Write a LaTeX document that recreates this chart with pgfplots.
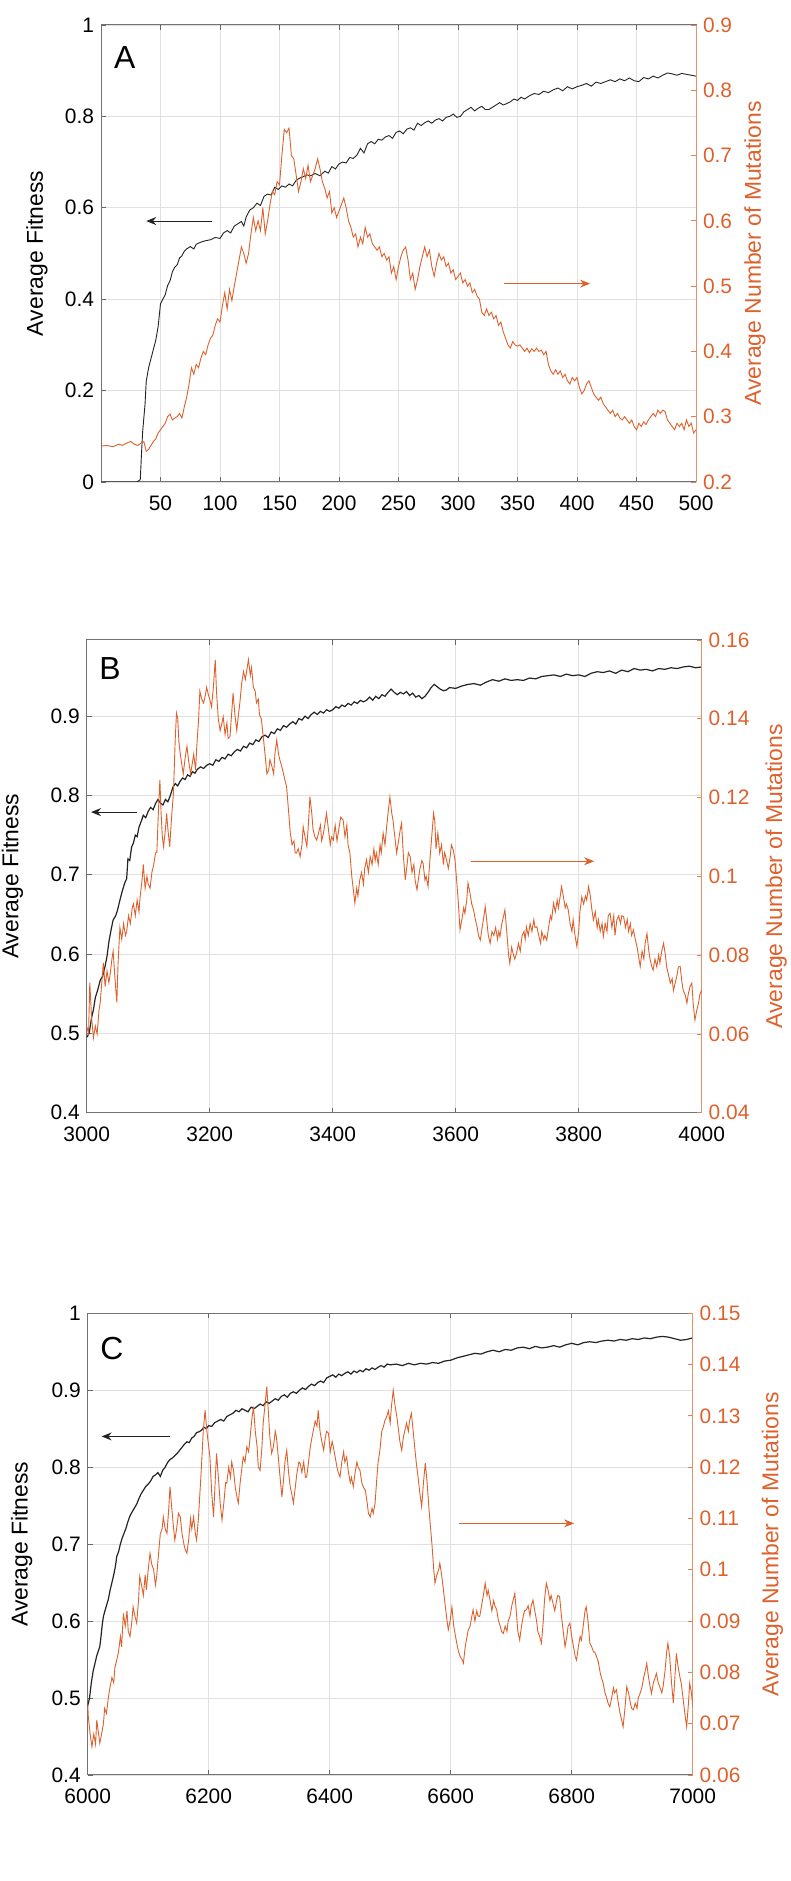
\documentclass[border=0pt]{standalone}
\usepackage{fontspec}
\setmainfont{Liberation Sans}
\usepackage{pgfplots}
\pgfplotsset{compat=1.18}
\usetikzlibrary{arrows.meta}
\definecolor{morange}{RGB}{222,96,44}
\definecolor{mblack}{RGB}{35,35,35}
\pgfplotsset{
  base/.style={scale only axis, anchor=south west,
    font=\fontsize{10.5}{12}\selectfont,
    tick align=inside, major tick length=2.5bp,
    axis line style={line width=0.5bp, black!55},
    tick style={line width=0.4bp, black!60},
    /pgf/number format/assume math mode=true,
    /pgf/number format/1000 sep={},
    scaled ticks=false,
    xticklabel style={yshift=-3.5bp},
    yticklabel style={/pgf/number format/fixed, /pgf/number format/precision=2},
    ylabel style={font=\fontsize{11.5}{13}\selectfont, anchor=center},
  },
  leftax/.style={base, grid=major, major grid style={black!12, line width=0.4bp},
    ytick pos=left, xtick pos=both},
  rightax/.style={base, axis y line*=right, axis x line=none, xticklabels={},
    ytick pos=right, yticklabel pos=right,
    y axis line style={morange!70, line width=0.5bp}, ytick style={morange!80},
    yticklabel style={color=morange}, ylabel style={color=morange}},
  blk/.style={mblack, line width=0.45bp},
  blkb/.style={mblack, line width=0.6bp},
  org/.style={morange, line width=0.45bp},
}
\begin{document}
\begin{tikzpicture}
\useasboundingbox (0,0) rectangle (395.5bp,940.5bp);
% ================= Panel A =================
\begin{axis}[leftax, at={(50.5bp,699.5bp)}, width=297.5bp, height=228.5bp,
  xmin=0, xmax=500, ymin=0, ymax=1, xtick={50,100,...,500}, ytick={0,0.2,...,1.0},
  ylabel={Average Fitness}, ylabel style={at={(axis description cs:-0.1076,0.5)}}]
\addplot[blk] coordinates {(0,0)(10,0)(20,0)(30,0)(33,0.005)(34,0.06)(35,0.11)(37,0.17)(38,0.22)(40,0.25)(42,0.27)(44,0.29)(46,0.31)(48,0.34)(50,0.39)(52,0.40)(54,0.41)(56,0.43)(58,0.44)(60,0.46)(62,0.47)(64,0.475)(66,0.49)(68,0.495)(70,0.505)(72,0.51)(75,0.515)(78,0.51)(80,0.52)(84,0.525)(88,0.528)(92,0.53)(96,0.535)(100,0.533)(103,0.545)(106,0.55)(109,0.545)(112,0.56)(115,0.565)(118,0.57)(120,0.56)(122,0.58)(125,0.595)(128,0.60)(131,0.61)(134,0.605)(137,0.625)(140,0.63)(143,0.628)(146,0.645)(149,0.64)(152,0.648)(155,0.645)(158,0.652)(161,0.648)(164,0.66)(167,0.665)(170,0.668)(173,0.672)(176,0.67)(180,0.675)(184,0.67)(188,0.68)(191,0.676)(194,0.69)(197,0.685)(200,0.696)(203,0.70)(206,0.698)(209,0.71)(212,0.708)(215,0.715)(218,0.73)(221,0.72)(224,0.74)(227,0.745)(230,0.74)(233,0.75)(236,0.748)(239,0.755)(242,0.758)(245,0.752)(248,0.765)(251,0.768)(254,0.762)(257,0.772)(260,0.775)(263,0.77)(266,0.785)(269,0.78)(272,0.786)(275,0.79)(278,0.785)(281,0.792)(284,0.795)(287,0.79)(290,0.798)(293,0.80)(296,0.805)(299,0.798)(302,0.80)(305,0.81)(308,0.815)(311,0.82)(314,0.812)(317,0.818)(320,0.822)(323,0.815)(326,0.815)(329,0.82)(332,0.825)(335,0.83)(338,0.825)(341,0.828)(344,0.832)(347,0.838)(350,0.835)(353,0.842)(356,0.838)(360,0.845)(364,0.85)(368,0.848)(372,0.855)(376,0.852)(380,0.858)(384,0.862)(388,0.856)(392,0.865)(396,0.86)(400,0.865)(404,0.868)(408,0.872)(412,0.866)(416,0.875)(420,0.872)(424,0.876)(428,0.88)(432,0.876)(436,0.882)(440,0.878)(444,0.884)(448,0.878)(452,0.876)(456,0.885)(460,0.882)(464,0.888)(468,0.884)(472,0.89)(476,0.895)(480,0.893)(484,0.89)(488,0.894)(492,0.892)(496,0.89)(500,0.888)};
\draw[mblack, line width=0.5bp, -{Stealth[length=5bp,width=4bp]}] (axis cs:93.6,0.571) -- (axis cs:38,0.571);
\draw[morange, line width=0.5bp, -{Stealth[length=5bp,width=4bp]}] (axis cs:339,0.434) -- (axis cs:411,0.434);
\node[font=\fontsize{16}{18}\selectfont] at (rel axis cs:0.04,0.928) {A};
\end{axis}
\begin{axis}[rightax, at={(50.5bp,699.5bp)}, width=297.5bp, height=228.5bp,
  xmin=0, xmax=500, ymin=0.2, ymax=0.9, ytick={0.2,0.3,...,0.9},
  ylabel={Average Number of Mutations}, ylabel style={at={(axis description cs:1.099,0.5)}}]
\addplot[org] coordinates {(0,0.255)(5,0.256)(10,0.254)(15,0.258)(18,0.256)(22,0.26)(25,0.262)(28,0.258)(31,0.256)(34,0.26)(36,0.262)(38,0.247)(40,0.25)(42,0.256)(44,0.262)(46,0.266)(48,0.275)(50,0.28)(52,0.285)(54,0.29)(56,0.30)(58,0.304)(60,0.295)(62,0.298)(64,0.30)(66,0.305)(68,0.298)(70,0.315)(72,0.33)(74,0.35)(76,0.375)(78,0.365)(80,0.38)(82,0.375)(84,0.39)(86,0.40)(88,0.395)(90,0.41)(92,0.42)(94,0.425)(96,0.44)(98,0.45)(100,0.445)(102,0.47)(104,0.49)(106,0.465)(108,0.495)(110,0.478)(112,0.5)(114,0.52)(116,0.54)(118,0.56)(120,0.55)(122,0.535)(124,0.55)(126,0.58)(128,0.605)(130,0.585)(132,0.6)(134,0.585)(136,0.62)(138,0.58)(140,0.6)(142,0.625)(144,0.645)(146,0.64)(148,0.66)(150,0.655)(152,0.7)(154,0.74)(156,0.735)(158,0.742)(160,0.70)(162,0.695)(164,0.67)(166,0.645)(168,0.66)(170,0.68)(172,0.665)(174,0.685)(176,0.66)(178,0.67)(180,0.68)(182,0.695)(184,0.68)(186,0.66)(188,0.65)(190,0.635)(192,0.645)(194,0.612)(196,0.62)(198,0.605)(200,0.615)(202,0.625)(204,0.635)(206,0.62)(208,0.60)(210,0.59)(212,0.575)(214,0.58)(216,0.56)(218,0.575)(220,0.565)(222,0.59)(224,0.575)(226,0.58)(228,0.565)(230,0.56)(232,0.555)(234,0.56)(236,0.545)(238,0.55)(240,0.54)(242,0.545)(244,0.52)(246,0.53)(248,0.51)(250,0.53)(252,0.545)(254,0.555)(256,0.56)(258,0.54)(260,0.51)(262,0.52)(264,0.495)(266,0.51)(268,0.53)(270,0.545)(272,0.56)(274,0.545)(276,0.555)(278,0.53)(280,0.515)(282,0.535)(284,0.55)(286,0.54)(288,0.545)(290,0.53)(292,0.535)(294,0.52)(296,0.525)(298,0.51)(300,0.515)(302,0.52)(304,0.505)(306,0.51)(308,0.50)(310,0.505)(312,0.49)(314,0.495)(316,0.485)(318,0.48)(320,0.46)(322,0.455)(324,0.465)(326,0.455)(328,0.46)(330,0.45)(332,0.455)(334,0.44)(336,0.445)(338,0.43)(340,0.42)(342,0.41)(344,0.405)(346,0.415)(348,0.41)(350,0.408)(352,0.41)(354,0.405)(356,0.40)(358,0.405)(360,0.398)(362,0.404)(364,0.40)(366,0.405)(368,0.40)(370,0.402)(372,0.395)(374,0.40)(376,0.38)(378,0.37)(380,0.365)(382,0.372)(384,0.365)(386,0.37)(388,0.36)(390,0.365)(392,0.355)(394,0.35)(396,0.36)(398,0.355)(400,0.36)(402,0.345)(404,0.335)(406,0.34)(408,0.35)(410,0.355)(412,0.345)(414,0.335)(416,0.33)(418,0.325)(420,0.33)(422,0.32)(424,0.315)(426,0.31)(428,0.305)(430,0.31)(432,0.30)(434,0.305)(436,0.298)(438,0.295)(440,0.30)(442,0.295)(444,0.29)(446,0.295)(448,0.285)(450,0.28)(452,0.29)(454,0.285)(456,0.292)(458,0.288)(460,0.295)(462,0.30)(464,0.305)(466,0.30)(468,0.31)(470,0.305)(472,0.31)(474,0.308)(476,0.295)(478,0.29)(480,0.285)(482,0.28)(484,0.29)(486,0.285)(488,0.29)(490,0.28)(492,0.295)(494,0.285)(496,0.29)(498,0.275)(500,0.28)};
\end{axis}
% ================= Panel B =================
\begin{axis}[leftax, at={(43.35bp,384.15bp)}, width=307.5bp, height=236.35bp,
  xmin=3000, xmax=4000, ymin=0.4, ymax=0.996, xtick={3000,3200,...,4000}, ytick={0.4,0.5,...,0.9},
  ylabel={Average Fitness}, ylabel style={at={(axis description cs:-0.1207,0.5)}}]
\addplot[blkb] coordinates {(3000,0.495)(3004,0.50)(3008,0.52)(3011,0.53)(3014,0.545)(3018,0.555)(3022,0.567)(3026,0.572)(3030,0.585)(3033,0.597)(3036,0.615)(3040,0.632)(3043,0.643)(3047,0.648)(3050,0.655)(3054,0.668)(3058,0.68)(3062,0.69)(3065,0.695)(3067,0.72)(3070,0.718)(3073,0.735)(3076,0.74)(3079,0.75)(3082,0.748)(3085,0.76)(3089,0.768)(3092,0.775)(3096,0.772)(3100,0.78)(3104,0.785)(3108,0.782)(3112,0.79)(3116,0.795)(3120,0.79)(3124,0.788)(3128,0.795)(3132,0.792)(3136,0.80)(3140,0.81)(3144,0.815)(3148,0.812)(3152,0.818)(3156,0.822)(3160,0.82)(3164,0.826)(3168,0.824)(3172,0.83)(3176,0.828)(3180,0.833)(3185,0.836)(3190,0.834)(3195,0.838)(3200,0.84)(3205,0.838)(3210,0.845)(3215,0.843)(3220,0.848)(3225,0.846)(3230,0.852)(3235,0.85)(3240,0.855)(3245,0.858)(3250,0.856)(3255,0.862)(3260,0.86)(3265,0.866)(3270,0.864)(3275,0.87)(3280,0.868)(3285,0.874)(3290,0.876)(3295,0.873)(3300,0.88)(3305,0.878)(3310,0.884)(3315,0.882)(3320,0.888)(3325,0.886)(3330,0.89)(3335,0.893)(3340,0.89)(3345,0.897)(3350,0.895)(3355,0.9)(3360,0.897)(3365,0.902)(3370,0.905)(3375,0.902)(3380,0.906)(3385,0.904)(3390,0.908)(3395,0.906)(3400,0.908)(3405,0.912)(3410,0.91)(3415,0.914)(3420,0.912)(3425,0.916)(3430,0.914)(3435,0.918)(3440,0.916)(3445,0.92)(3450,0.918)(3455,0.92)(3460,0.924)(3465,0.92)(3470,0.925)(3475,0.922)(3480,0.927)(3485,0.925)(3490,0.93)(3495,0.934)(3500,0.93)(3505,0.927)(3510,0.93)(3515,0.928)(3520,0.931)(3525,0.926)(3530,0.929)(3535,0.924)(3540,0.926)(3545,0.922)(3550,0.925)(3555,0.93)(3560,0.936)(3565,0.94)(3570,0.937)(3575,0.934)(3580,0.932)(3585,0.933)(3590,0.936)(3600,0.935)(3610,0.938)(3620,0.94)(3630,0.941)(3640,0.939)(3650,0.943)(3660,0.946)(3670,0.944)(3680,0.947)(3690,0.945)(3700,0.946)(3710,0.945)(3720,0.948)(3730,0.947)(3740,0.95)(3750,0.951)(3760,0.952)(3770,0.95)(3780,0.953)(3790,0.951)(3800,0.952)(3810,0.95)(3820,0.954)(3830,0.956)(3840,0.955)(3850,0.957)(3860,0.954)(3870,0.958)(3880,0.956)(3890,0.96)(3900,0.958)(3910,0.959)(3920,0.957)(3930,0.96)(3940,0.959)(3950,0.961)(3960,0.96)(3970,0.962)(3980,0.963)(3990,0.961)(4000,0.962)};
\draw[mblack, line width=0.5bp, -{Stealth[length=5bp,width=4bp]}] (axis cs:3082,0.779) -- (axis cs:3007,0.779);
\draw[morange, line width=0.5bp, -{Stealth[length=5bp,width=4bp]}] (axis cs:3625,0.717) -- (axis cs:3825,0.717);
\node[font=\fontsize{16}{18}\selectfont] at (rel axis cs:0.038,0.94) {B};
\end{axis}
\begin{axis}[rightax, at={(43.35bp,384.15bp)}, width=307.5bp, height=236.35bp,
  xmin=3000, xmax=4000, ymin=0.04, ymax=0.16, ytick={0.04,0.06,...,0.161},
  ylabel={Average Number of Mutations}, ylabel style={at={(axis description cs:1.121,0.5)}}]
\addplot[org] coordinates {(3000,0.062)(3003,0.060)(3005,0.073)(3008,0.064)(3011,0.059)(3014,0.062)(3017,0.06)(3020,0.066)(3022,0.068)(3025,0.074)(3027,0.078)(3030,0.072)(3033,0.076)(3036,0.073)(3038,0.075)(3041,0.079)(3043,0.081)(3046,0.074)(3049,0.068)(3051,0.078)(3054,0.087)(3057,0.084)(3060,0.088)(3063,0.085)(3065,0.086)(3068,0.09)(3071,0.088)(3074,0.092)(3076,0.093)(3079,0.09)(3082,0.094)(3085,0.091)(3087,0.095)(3090,0.099)(3092,0.103)(3095,0.097)(3098,0.1)(3100,0.098)(3103,0.097)(3106,0.101)(3109,0.103)(3112,0.106)(3114,0.106)(3117,0.118)(3119,0.1245)(3121,0.116)(3123,0.11)(3125,0.1075)(3128,0.112)(3130,0.116)(3132,0.112)(3135,0.1075)(3138,0.115)(3141,0.121)(3144,0.135)(3146,0.1414)(3148,0.14)(3150,0.134)(3152,0.1313)(3155,0.128)(3157,0.126)(3160,0.13)(3163,0.133)(3166,0.129)(3169,0.126)(3171,0.128)(3174,0.131)(3177,0.127)(3179,0.133)(3182,0.14)(3184,0.147)(3187,0.145)(3190,0.144)(3193,0.146)(3195,0.148)(3198,0.146)(3200,0.145)(3203,0.143)(3206,0.148)(3209,0.155)(3211,0.147)(3214,0.14)(3217,0.137)(3220,0.139)(3222,0.1405)(3225,0.136)(3228,0.139)(3230,0.135)(3233,0.1355)(3236,0.142)(3238,0.1465)(3241,0.141)(3244,0.137)(3246,0.14)(3249,0.144)(3252,0.149)(3255,0.152)(3258,0.15)(3261,0.153)(3263,0.155)(3266,0.151)(3268,0.153)(3271,0.148)(3274,0.147)(3276,0.144)(3279,0.145)(3281,0.141)(3284,0.14)(3287,0.1355)(3290,0.131)(3293,0.126)(3296,0.127)(3298,0.1296)(3301,0.128)(3304,0.126)(3306,0.131)(3309,0.1346)(3312,0.131)(3314,0.1296)(3317,0.128)(3320,0.126)(3323,0.124)(3325,0.1228)(3328,0.117)(3331,0.111)(3334,0.108)(3337,0.109)(3339,0.106)(3341,0.1059)(3344,0.107)(3347,0.105)(3350,0.108)(3352,0.1126)(3355,0.11)(3358,0.1075)(3360,0.112)(3363,0.1202)(3366,0.116)(3368,0.112)(3371,0.11)(3374,0.1092)(3377,0.111)(3380,0.113)(3382,0.109)(3385,0.111)(3388,0.114)(3390,0.116)(3393,0.112)(3396,0.108)(3398,0.11)(3401,0.1092)(3404,0.113)(3407,0.109)(3410,0.112)(3413,0.115)(3417,0.1143)(3420,0.11)(3423,0.113)(3425,0.108)(3428,0.1059)(3431,0.1)(3434,0.096)(3436,0.0932)(3439,0.097)(3441,0.095)(3444,0.0991)(3447,0.101)(3450,0.098)(3452,0.102)(3455,0.1042)(3458,0.101)(3461,0.105)(3464,0.103)(3467,0.107)(3469,0.104)(3471,0.1059)(3474,0.103)(3477,0.108)(3479,0.106)(3482,0.111)(3485,0.108)(3488,0.113)(3490,0.116)(3493,0.1202)(3496,0.116)(3498,0.1143)(3501,0.11)(3504,0.1059)(3507,0.109)(3510,0.112)(3512,0.1135)(3515,0.105)(3518,0.0991)(3521,0.103)(3523,0.106)(3526,0.105)(3529,0.101)(3532,0.103)(3534,0.099)(3537,0.0966)(3540,0.1)(3542,0.102)(3545,0.104)(3547,0.1033)(3550,0.099)(3552,0.1)(3555,0.0974)(3558,0.104)(3561,0.11)(3564,0.116)(3566,0.114)(3568,0.107)(3571,0.111)(3574,0.1059)(3577,0.108)(3580,0.103)(3582,0.106)(3585,0.1042)(3588,0.102)(3591,0.105)(3593,0.108)(3596,0.1067)(3599,0.104)(3601,0.1)(3604,0.094)(3607,0.0864)(3610,0.089)(3613,0.092)(3615,0.0906)(3618,0.094)(3620,0.0983)(3623,0.096)(3626,0.093)(3629,0.0915)(3632,0.089)(3635,0.087)(3637,0.085)(3640,0.0838)(3643,0.087)(3646,0.09)(3648,0.0923)(3651,0.088)(3653,0.085)(3656,0.083)(3659,0.086)(3662,0.085)(3665,0.087)(3668,0.084)(3670,0.086)(3672,0.0847)(3675,0.088)(3678,0.09)(3680,0.0915)(3683,0.086)(3686,0.08)(3688,0.0779)(3691,0.082)(3694,0.08)(3696,0.079)(3699,0.0805)(3702,0.083)(3705,0.081)(3708,0.085)(3711,0.086)(3713,0.084)(3715,0.0872)(3718,0.085)(3721,0.088)(3724,0.086)(3727,0.089)(3729,0.087)(3732,0.0872)(3735,0.085)(3738,0.083)(3740,0.086)(3743,0.084)(3745,0.085)(3748,0.0838)(3751,0.087)(3754,0.09)(3756,0.089)(3759,0.0932)(3762,0.091)(3765,0.094)(3767,0.092)(3770,0.095)(3772,0.0974)(3775,0.095)(3778,0.092)(3780,0.093)(3783,0.0915)(3786,0.088)(3789,0.086)(3791,0.089)(3794,0.085)(3797,0.0822)(3800,0.086)(3802,0.091)(3805,0.0948)(3808,0.093)(3811,0.095)(3813,0.094)(3816,0.0974)(3819,0.095)(3821,0.092)(3824,0.0889)(3827,0.091)(3830,0.087)(3832,0.089)(3835,0.086)(3838,0.088)(3840,0.0847)(3843,0.088)(3846,0.086)(3848,0.09)(3851,0.0906)(3854,0.087)(3857,0.09)(3859,0.085)(3862,0.0889)(3865,0.09)(3868,0.088)(3870,0.09)(3873,0.0898)(3876,0.087)(3879,0.089)(3881,0.086)(3884,0.088)(3886,0.085)(3889,0.0864)(3892,0.084)(3895,0.082)(3897,0.08)(3900,0.0771)(3903,0.081)(3906,0.079)(3908,0.083)(3911,0.0855)(3914,0.081)(3916,0.079)(3919,0.077)(3921,0.0762)(3924,0.079)(3927,0.077)(3930,0.08)(3932,0.078)(3935,0.081)(3938,0.083)(3941,0.08)(3943,0.077)(3946,0.075)(3949,0.0729)(3952,0.074)(3954,0.071)(3957,0.073)(3960,0.075)(3962,0.077)(3965,0.0771)(3968,0.073)(3970,0.071)(3973,0.07)(3976,0.0678)(3978,0.07)(3981,0.072)(3984,0.0729)(3986,0.068)(3989,0.0635)(3992,0.066)(3995,0.068)(3997,0.07)(4000,0.0712)};
\end{axis}
% ================= Panel C =================
\begin{axis}[leftax, at={(43.85bp,53bp)}, width=302.5bp, height=230.85bp,
  xmin=6000, xmax=7000, ymin=0.4, ymax=1, xtick={6000,6200,...,7000}, ytick={0.4,0.5,...,1.0},
  ylabel={Average Fitness}, ylabel style={at={(axis description cs:-0.109,0.5)}}]
\addplot[blkb] coordinates {(6000,0.49)(6003,0.50)(6006,0.52)(6009,0.535)(6012,0.545)(6015,0.555)(6018,0.562)(6020,0.567)(6022,0.58)(6024,0.595)(6026,0.606)(6028,0.612)(6031,0.62)(6034,0.628)(6037,0.64)(6040,0.65)(6043,0.66)(6046,0.672)(6048,0.684)(6051,0.69)(6054,0.70)(6057,0.708)(6060,0.714)(6063,0.72)(6066,0.728)(6069,0.735)(6072,0.74)(6075,0.744)(6078,0.748)(6081,0.752)(6084,0.758)(6088,0.765)(6092,0.77)(6096,0.775)(6100,0.778)(6104,0.782)(6108,0.788)(6112,0.79)(6116,0.793)(6120,0.788)(6124,0.796)(6128,0.80)(6132,0.806)(6136,0.81)(6140,0.812)(6144,0.815)(6148,0.818)(6152,0.822)(6156,0.826)(6160,0.83)(6164,0.833)(6168,0.832)(6172,0.838)(6176,0.84)(6180,0.845)(6184,0.846)(6188,0.848)(6192,0.852)(6196,0.85)(6200,0.854)(6205,0.853)(6210,0.858)(6215,0.86)(6220,0.862)(6225,0.86)(6230,0.866)(6235,0.868)(6240,0.87)(6245,0.874)(6250,0.872)(6255,0.876)(6260,0.874)(6265,0.872)(6270,0.878)(6275,0.876)(6280,0.879)(6285,0.882)(6290,0.88)(6295,0.885)(6300,0.883)(6305,0.886)(6310,0.889)(6315,0.887)(6320,0.892)(6325,0.894)(6330,0.891)(6335,0.896)(6340,0.898)(6345,0.896)(6350,0.9)(6355,0.903)(6360,0.901)(6365,0.905)(6370,0.908)(6375,0.906)(6380,0.91)(6385,0.912)(6390,0.91)(6395,0.916)(6400,0.918)(6405,0.92)(6410,0.917)(6415,0.921)(6420,0.919)(6425,0.922)(6430,0.924)(6435,0.921)(6440,0.925)(6445,0.923)(6450,0.926)(6455,0.924)(6460,0.928)(6465,0.926)(6470,0.929)(6475,0.927)(6480,0.93)(6485,0.932)(6490,0.93)(6495,0.934)(6500,0.933)(6510,0.934)(6520,0.932)(6530,0.935)(6540,0.933)(6550,0.935)(6560,0.934)(6570,0.936)(6580,0.935)(6590,0.938)(6600,0.939)(6610,0.942)(6620,0.944)(6630,0.946)(6640,0.948)(6650,0.947)(6660,0.95)(6670,0.952)(6680,0.95)(6690,0.953)(6700,0.952)(6710,0.955)(6720,0.956)(6730,0.954)(6740,0.957)(6750,0.955)(6760,0.956)(6770,0.958)(6780,0.956)(6790,0.959)(6800,0.961)(6810,0.959)(6820,0.962)(6830,0.963)(6840,0.962)(6850,0.964)(6860,0.965)(6870,0.964)(6880,0.966)(6890,0.965)(6900,0.967)(6910,0.966)(6920,0.968)(6930,0.967)(6940,0.969)(6950,0.97)(6960,0.969)(6970,0.967)(6980,0.965)(6990,0.966)(7000,0.968)};
\draw[mblack, line width=0.5bp, -{Stealth[length=5bp,width=4bp]}] (axis cs:6136,0.84) -- (axis cs:6023,0.84);
\draw[morange, line width=0.5bp, -{Stealth[length=5bp,width=4bp]}] (axis cs:6614,0.727) -- (axis cs:6804,0.727);
\node[font=\fontsize{16}{18}\selectfont] at (rel axis cs:0.04,0.924) {C};
\end{axis}
\begin{axis}[rightax, at={(43.85bp,53bp)}, width=302.5bp, height=230.85bp,
  xmin=6000, xmax=7000, ymin=0.06, ymax=0.15, ytick={0.06,0.07,...,0.151},
  ylabel={Average Number of Mutations}, ylabel style={at={(axis description cs:1.132,0.5)}}]
\addplot[org] coordinates {(6000,0.074)(6001,0.0714)(6004,0.068)(6007,0.0655)(6010,0.068)(6013,0.066)(6015,0.0707)(6018,0.068)(6020,0.0662)(6023,0.068)(6026,0.07)(6028,0.073)(6031,0.072)(6034,0.075)(6037,0.0772)(6040,0.079)(6043,0.078)(6045,0.081)(6048,0.0824)(6051,0.084)(6054,0.087)(6056,0.085)(6059,0.0915)(6062,0.089)(6065,0.092)(6067,0.088)(6070,0.087)(6073,0.09)(6075,0.0928)(6078,0.091)(6081,0.0896)(6084,0.094)(6086,0.0987)(6089,0.097)(6092,0.095)(6095,0.099)(6097,0.0961)(6100,0.1)(6103,0.1032)(6106,0.101)(6109,0.1)(6112,0.097)(6114,0.0987)(6117,0.103)(6120,0.107)(6123,0.108)(6125,0.1103)(6128,0.108)(6131,0.1071)(6134,0.112)(6136,0.1162)(6139,0.112)(6142,0.108)(6144,0.1058)(6147,0.108)(6150,0.111)(6153,0.1103)(6156,0.107)(6159,0.105)(6161,0.104)(6164,0.1032)(6167,0.106)(6170,0.11)(6172,0.108)(6175,0.1103)(6178,0.107)(6180,0.1058)(6183,0.11)(6186,0.116)(6188,0.1201)(6191,0.127)(6194,0.1311)(6197,0.127)(6200,0.124)(6202,0.122)(6205,0.115)(6208,0.1103)(6211,0.118)(6213,0.1227)(6216,0.118)(6219,0.113)(6222,0.1097)(6225,0.113)(6228,0.117)(6230,0.1169)(6233,0.12)(6236,0.118)(6238,0.121)(6241,0.1194)(6244,0.116)(6247,0.114)(6249,0.113)(6252,0.117)(6255,0.12)(6257,0.122)(6260,0.121)(6263,0.124)(6266,0.123)(6268,0.1253)(6271,0.129)(6274,0.1318)(6277,0.127)(6280,0.124)(6282,0.12)(6285,0.1194)(6288,0.124)(6290,0.1285)(6293,0.132)(6296,0.1357)(6299,0.13)(6301,0.126)(6304,0.1227)(6307,0.124)(6310,0.127)(6312,0.1259)(6315,0.122)(6318,0.118)(6321,0.1142)(6324,0.118)(6326,0.121)(6329,0.1233)(6332,0.119)(6335,0.116)(6337,0.115)(6340,0.113)(6343,0.116)(6346,0.119)(6349,0.121)(6351,0.1208)(6354,0.119)(6357,0.121)(6360,0.118)(6362,0.1181)(6365,0.121)(6368,0.124)(6371,0.126)(6373,0.1272)(6376,0.129)(6379,0.128)(6381,0.1311)(6384,0.127)(6387,0.125)(6390,0.1233)(6393,0.126)(6395,0.127)(6398,0.1266)(6401,0.123)(6404,0.125)(6406,0.124)(6409,0.122)(6412,0.12)(6414,0.119)(6417,0.1181)(6420,0.121)(6423,0.123)(6425,0.121)(6428,0.122)(6431,0.119)(6434,0.117)(6436,0.118)(6439,0.1162)(6442,0.119)(6445,0.121)(6447,0.12)(6450,0.1194)(6453,0.117)(6456,0.116)(6459,0.1155)(6462,0.113)(6464,0.111)(6467,0.1103)(6470,0.112)(6472,0.111)(6475,0.113)(6478,0.118)(6480,0.121)(6483,0.1233)(6486,0.127)(6489,0.128)(6491,0.129)(6494,0.1298)(6497,0.131)(6500,0.1286)(6502,0.1318)(6505,0.135)(6508,0.132)(6511,0.1298)(6514,0.127)(6516,0.125)(6519,0.1233)(6522,0.126)(6524,0.127)(6527,0.1286)(6530,0.127)(6532,0.129)(6535,0.1305)(6538,0.127)(6541,0.1233)(6543,0.121)(6546,0.1181)(6549,0.115)(6552,0.1123)(6555,0.117)(6558,0.1208)(6561,0.117)(6564,0.112)(6566,0.1091)(6569,0.105)(6572,0.1)(6574,0.0974)(6577,0.099)(6580,0.1)(6582,0.1013)(6585,0.099)(6588,0.0961)(6591,0.093)(6594,0.09)(6596,0.0883)(6599,0.09)(6602,0.0928)(6605,0.089)(6608,0.087)(6610,0.0857)(6613,0.084)(6616,0.083)(6619,0.0825)(6621,0.0818)(6624,0.085)(6627,0.087)(6629,0.0883)(6632,0.089)(6635,0.091)(6637,0.0922)(6640,0.09)(6643,0.092)(6645,0.091)(6648,0.0909)(6651,0.093)(6654,0.095)(6657,0.0974)(6660,0.095)(6662,0.096)(6665,0.0941)(6668,0.092)(6671,0.094)(6673,0.093)(6676,0.0922)(6679,0.09)(6682,0.089)(6684,0.088)(6687,0.0876)(6690,0.089)(6693,0.088)(6695,0.09)(6698,0.0909)(6701,0.093)(6703,0.094)(6706,0.0954)(6709,0.091)(6711,0.088)(6714,0.0863)(6717,0.089)(6720,0.091)(6722,0.092)(6725,0.0922)(6728,0.093)(6731,0.091)(6733,0.093)(6736,0.0941)(6739,0.092)(6742,0.09)(6744,0.088)(6747,0.087)(6750,0.0857)(6753,0.09)(6755,0.094)(6758,0.0974)(6761,0.096)(6764,0.094)(6766,0.095)(6769,0.0935)(6772,0.092)(6775,0.094)(6777,0.095)(6780,0.0948)(6783,0.091)(6786,0.088)(6789,0.085)(6792,0.087)(6794,0.089)(6797,0.0896)(6800,0.087)(6803,0.085)(6806,0.083)(6808,0.0824)(6811,0.085)(6814,0.087)(6816,0.0863)(6819,0.089)(6822,0.092)(6824,0.0928)(6827,0.09)(6830,0.0857)(6833,0.085)(6836,0.084)(6838,0.084)(6841,0.0831)(6844,0.082)(6847,0.08)(6849,0.079)(6852,0.0779)(6855,0.076)(6858,0.075)(6860,0.074)(6863,0.0733)(6866,0.075)(6869,0.077)(6871,0.076)(6874,0.0766)(6877,0.074)(6880,0.072)(6882,0.071)(6885,0.0694)(6888,0.073)(6891,0.0772)(6894,0.076)(6897,0.074)(6899,0.073)(6902,0.0727)(6905,0.074)(6908,0.073)(6910,0.075)(6913,0.0759)(6916,0.077)(6919,0.079)(6921,0.08)(6924,0.0818)(6927,0.079)(6930,0.077)(6932,0.0759)(6935,0.078)(6938,0.079)(6940,0.0798)(6943,0.078)(6946,0.077)(6949,0.076)(6951,0.0772)(6954,0.08)(6957,0.084)(6959,0.0857)(6962,0.083)(6965,0.078)(6968,0.074)(6970,0.078)(6973,0.0837)(6976,0.081)(6979,0.079)(6981,0.0779)(6984,0.075)(6987,0.072)(6990,0.0694)(6993,0.074)(6995,0.0779)(6998,0.076)(7000,0.0733)};
\end{axis}
\end{tikzpicture}
\end{document}
